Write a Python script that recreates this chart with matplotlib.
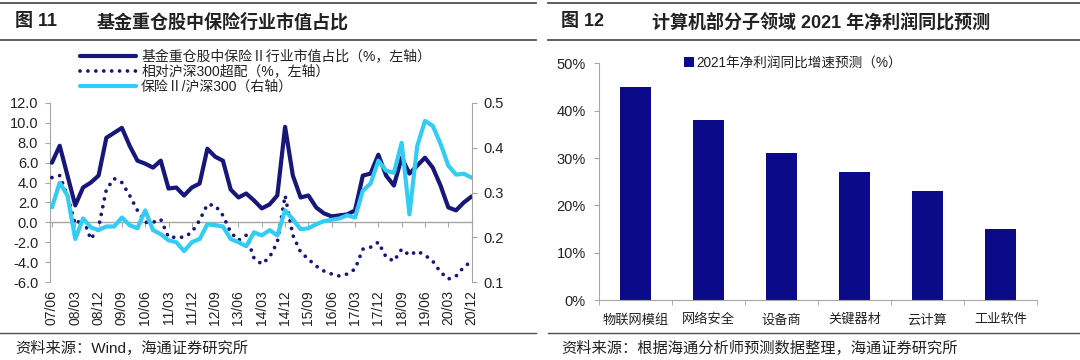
import numpy as np
import matplotlib
matplotlib.use("Agg")
import matplotlib.pyplot as plt
from matplotlib.lines import Line2D
from matplotlib.ticker import FuncFormatter, FixedLocator

plt.rcParams['font.family'] = ['Liberation Sans', 'Noto Sans CJK SC', 'DejaVu Sans']
plt.rcParams['axes.unicode_minus'] = False

# ---- left chart data (quarterly, 2007Q2 .. 2020Q4) ----
quarter_labels = ['07/06', '08/03', '08/12', '09/09', '10/06', '11/03', '11/12',
                  '12/09', '13/06', '14/03', '14/12', '15/09', '16/06', '17/03',
                  '17/12', '18/09', '19/06', '20/03', '20/12']

fund_share = [6.0, 7.7, 4.7, 1.7, 3.5, 4.0, 4.7, 8.5, 9.0, 9.5,
              7.7, 6.2, 5.9, 5.5, 6.2, 3.4, 3.5, 2.7, 3.5, 3.9,
              7.4, 6.6, 6.2, 3.3, 2.5, 2.9, 2.2, 1.4, 1.8, 2.7,
              9.6, 4.7, 2.5, 2.7, 1.5, 0.9, 0.6, 0.7, 0.8, 1.2,
              4.7, 4.9, 6.8, 4.7, 3.7, 6.5, 4.9, 5.7, 6.5, 5.5,
              3.7, 1.5, 1.2, 2.0, 2.6]

overweight = [4.5, 4.7, 2.7, -0.2, 0.4, -1.7, -0.5, 3.3, 4.4, 4.0,
              2.7, 1.2, 0.0, 0.0, 0.3, -1.5, -1.5, -1.5, -1.0, 0.2,
              1.8, 1.7, 0.7, -1.0, -1.8, -1.3, -3.6, -4.2, -3.5, -2.0,
              2.7, -1.3, -3.0, -3.7, -4.4, -4.9, -5.2, -5.4, -5.2, -4.7,
              -2.7, -2.5, -2.0, -3.5, -3.9, -2.7, -3.3, -2.9, -3.3, -3.9,
              -5.0, -5.7, -5.4, -4.5, -3.9]

ins_vs_hs300 = [0.267, 0.322, 0.293, 0.196, 0.242, 0.222, 0.216, 0.224, 0.224, 0.244,
                0.227, 0.220, 0.260, 0.216, 0.207, 0.193, 0.189, 0.169, 0.189, 0.196,
                0.229, 0.227, 0.224, 0.196, 0.189, 0.180, 0.211, 0.204, 0.216, 0.204,
                0.260, 0.240, 0.218, 0.220, 0.229, 0.236, 0.239, 0.242, 0.249, 0.244,
                0.304, 0.320, 0.371, 0.349, 0.344, 0.411, 0.251, 0.404, 0.460, 0.449,
                0.409, 0.360, 0.340, 0.342, 0.333]

# ---- right chart data ----
segments = ['物联网模组', '网络安全', '设备商', '关键器材', '云计算', '工业软件']
growth_2021 = [45, 38, 31, 27, 23, 15]

NAVY = '#17177a'
CYAN = '#33ccf5'
BAR = '#0b0b8a'
GREY = '#a6a6a6'
TXT = '#222222'

fig = plt.figure(figsize=(10.8, 3.6), dpi=100)

# header / footer rules and titles
def hline(y, x0, x1, lw=1.3):
    fig.add_artist(Line2D([x0, x1], [y, y], transform=fig.transFigure, color='#505050', lw=lw))

for x0, x1 in [(0.0, 0.496), (0.507, 1.0)]:
    hline(1 - 3 / 360, x0, x1)
    hline(1 - 40 / 360, x0, x1)
    hline(1 - 333 / 360, x0, x1, lw=1.0)

fig.text(15 / 1080, 1 - 22 / 360, '图 11', fontsize=13, fontweight='bold', va='center', color=TXT)
fig.text(97 / 1080, 1 - 22 / 360, '基金重仓股中保险行业市值占比', fontsize=13, fontweight='bold', va='center', color=TXT)
fig.text(561 / 1080, 1 - 22 / 360, '图 12', fontsize=13, fontweight='bold', va='center', color=TXT)
fig.text(652 / 1080, 1 - 22 / 360, '计算机部分子领域 2021 年净利润同比预测', fontsize=13, fontweight='bold', va='center', color=TXT)

fig.text(15 / 1080, 1 - 348 / 360, '资料来源：Wind，海通证券研究所', fontsize=11, va='center', color=TXT)
fig.text(561 / 1080, 1 - 348 / 360, '资料来源：根据海通分析师预测数据整理，海通证券研究所', fontsize=11, va='center', color=TXT)

# ---------------- left chart ----------------
n = len(fund_share)
xq = np.arange(n)
ax = fig.add_axes([50 / 1080, 1 - 282 / 360, 422 / 1080, 179 / 360])
ax2 = ax.twinx()

l1, = ax.plot(xq, fund_share, color=NAVY, lw=3.0, solid_joinstyle='round', solid_capstyle='round', zorder=3)
l2, = ax.plot(xq, overweight, color=NAVY, lw=2.7, linestyle=(0, (0.01, 2.1)),
              dash_capstyle='round', zorder=3)
l3, = ax2.plot(xq, ins_vs_hs300, color=CYAN, lw=3.0, solid_joinstyle='round', solid_capstyle='round')

ax.set_ylim(-6, 12)
ax.set_yticks(np.arange(-6, 12.1, 2))
ax.yaxis.set_major_formatter(FuncFormatter(lambda v, p: f'{v:.1f}'))
ax2.set_ylim(0.1, 0.5)
ax2.set_yticks([0.1, 0.2, 0.3, 0.4, 0.5])
ax2.yaxis.set_major_formatter(FuncFormatter(lambda v, p: f'{v:.1f}'))
ax.set_xlim(-0.25, n - 1 + 0.05)

for a in (ax, ax2):
    a.set_facecolor('none')
    for s in ('top', 'bottom'):
        a.spines[s].set_visible(False)
ax.spines['right'].set_visible(False)
ax2.spines['left'].set_visible(False)
ax.spines['left'].set_color(GREY)
ax2.spines['right'].set_color(GREY)

ax.tick_params(axis='y', length=3.5, color=GREY, pad=5, labelsize=10.5, labelcolor=TXT)
ax2.tick_params(axis='y', length=3.5, color=GREY, pad=5, labelsize=10.5, labelcolor=TXT)

# zero line with ticks, labels at the bottom
ax.spines['bottom'].set_visible(True)
ax.spines['bottom'].set_position(('data', 0))
ax.spines['bottom'].set_color(GREY)
ax.spines['bottom'].set_linewidth(1.0)
tick_pos = xq[::3]
ax.xaxis.set_major_locator(FixedLocator(tick_pos))
ax.tick_params(axis='x', length=3.5, color=GREY, labelbottom=False)

sec = ax.secondary_xaxis('bottom')
sec.set_xticks(tick_pos)
sec.set_xticklabels(quarter_labels, rotation=90, fontsize=10, color=TXT)
sec.tick_params(length=0, pad=6)
sec.spines['bottom'].set_visible(False)

fig.legend([l1, l2, l3],
           ['基金重仓股中保险Ⅱ行业市值占比（%，左轴）', '相对沪深300超配（%，左轴）', '保险Ⅱ/沪深300（右轴）'],
           loc='upper left', bbox_to_anchor=(80 / 1080, 1 - 50 / 360), frameon=False,
           fontsize=10, handlelength=4.0, handletextpad=0.4, labelspacing=0.05,
           borderpad=0, borderaxespad=0, labelcolor=TXT)

# ---------------- right chart ----------------
bx = fig.add_axes([599 / 1080, 1 - 300 / 360, 438 / 1080, 236.5 / 360])
pos = np.arange(len(segments))
bars = bx.bar(pos, growth_2021, width=0.43, color=BAR, label='2021年净利润同比增速预测（%）')
bx.set_xlim(-0.5, len(segments) - 0.5)
bx.set_ylim(0, 50)
bx.set_yticks(np.arange(0, 51, 10))
bx.yaxis.set_major_formatter(FuncFormatter(lambda v, p: f'{v:.0f}%'))
bx.set_xticks(pos)
bx.set_xticklabels(segments, fontsize=9.5, color=TXT)
bx.set_xticks(np.arange(-0.5, len(segments), 1), minor=True)
bx.tick_params(axis='x', which='major', length=0, pad=10)
bx.tick_params(axis='x', which='minor', length=3.5, color=GREY)
bx.tick_params(axis='y', length=3.5, color=GREY, pad=6, labelsize=10.5, labelcolor=TXT)
for s in ('top', 'right'):
    bx.spines[s].set_visible(False)
for s in ('left', 'bottom'):
    bx.spines[s].set_color(GREY)

fig.legend(handles=[bars], loc='upper left', bbox_to_anchor=(684 / 1080, 1 - 56 / 360),
           frameon=False, fontsize=9.8, handlelength=0.7, handleheight=0.7,
           handletextpad=0.2, borderpad=0, borderaxespad=0, labelcolor=TXT)

fig.savefig('out.png', dpi=100)
